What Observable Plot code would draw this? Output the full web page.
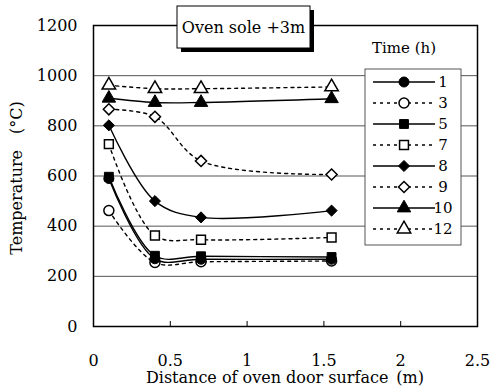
<!DOCTYPE html>
<html>
<head>
<meta charset="utf-8">
<script src="https://cdn.jsdelivr.net/npm/d3@7"></script>
<script src="https://cdn.jsdelivr.net/npm/@observablehq/plot@0.6"></script>
<style>
  html, body { margin: 0; padding: 0; background: #fff; }
  #chart svg { display: block; }
  #chart svg, #chart svg text { font-family: "DejaVu Serif", "Liberation Serif", serif !important; }
</style>
</head>
<body>
<div id="chart"></div>
<script>
// ---- data ----
const distance = [0.1, 0.4, 0.7, 1.55];           // m
const times = ["1", "3", "5", "7", "8", "9", "10", "12"];  // h
const temp_1h  = [590, 270, 268, 268];
const temp_3h  = [462, 255, 258, 261];
const temp_5h  = [597, 282, 280, 277];
const temp_7h  = [727, 363, 346, 355];
const temp_8h  = [802, 500, 435, 462];
const temp_9h  = [866, 836, 660, 606];
const temp_10h = [910, 893, 893, 908];
const temp_12h = [962, 948, 948, 955];
const xTicks = [0, 0.5, 1, 1.5, 2, 2.5];
const xTickLabels = ["0", "0.5", "1", "1.5", "2", "2.5"];
const yTicks = [0, 200, 400, 600, 800, 1000, 1200];
const gridY = [200, 400, 600, 800, 1000];
const titleText = "Oven sole +3m";
const legendTitle = "Time (h)";
const xLabel = "Distance of oven door surface\u2002(m)";
const yLabel = "Temperature\u2003(°C)";

const seriesValues = [temp_1h, temp_3h, temp_5h, temp_7h, temp_8h, temp_9h, temp_10h, temp_12h];
const filled = {"1": true, "3": false, "5": true, "7": false, "8": true, "9": false, "10": true, "12": false};
const dashed = {"1": false, "3": true, "5": false, "7": true, "8": false, "9": true, "10": false, "12": true};
const symbolOf = {
  "1": d3.symbolCircle, "3": d3.symbolCircle,
  "5": d3.symbolSquare, "7": d3.symbolSquare,
  "8": d3.symbolDiamond2, "9": d3.symbolDiamond2,
  "10": d3.symbolTriangle, "12": d3.symbolTriangle
};

const rows = [];
times.forEach((t, i) => {
  seriesValues[i].forEach((v, j) => rows.push({time: t, x: distance[j], y: v}));
});

const W = 497, H = 390;
const mL = 93, mR = 20, mT = 25, mB = 64;
const R = 5;
const dash = "3,4";
const font = "DejaVu Serif";

const chart = Plot.plot({
  width: W, height: H,
  marginLeft: mL, marginRight: mR, marginTop: mT, marginBottom: mB,
  style: {fontFamily: font, fontSize: "16px", color: "#000", background: "#fff"},
  x: {domain: [0, 2.5]},
  y: {domain: [0, 1200]},
  symbol: {domain: times, range: times.map(t => symbolOf[t])},
  marks: [
    Plot.ruleY(gridY, {stroke: "#555", strokeWidth: 1}),
    Plot.ruleX(xTicks.slice(1, -1), {y1: 0, y2: 20, stroke: "#000", strokeWidth: 1}),
    Plot.frame({stroke: "#000", strokeWidth: 1.5}),
    Plot.axisY(yTicks, {tickSize: 0, tickPadding: 16, label: null, fontSize: 16,
      tickFormat: d => String(d)}),
    Plot.axisX(xTicks, {tickSize: 0, tickPadding: 28, label: null, fontSize: 16,
      tickFormat: d => xTickLabels[xTicks.indexOf(d)]}),
    Plot.line(rows.filter(d => !dashed[d.time]), {x: "x", y: "y", z: "time", curve: "catmull-rom", stroke: "#000", strokeWidth: 1.4}),
    Plot.line(rows.filter(d => dashed[d.time]), {x: "x", y: "y", z: "time", curve: "catmull-rom", stroke: "#000", strokeWidth: 1.4, strokeDasharray: dash}),
    Plot.dot(rows.filter(d => !filled[d.time]), {x: "x", y: "y", symbol: "time", r: R, fill: "#fff", stroke: "#000", strokeWidth: 1.5}),
    Plot.dot(rows.filter(d => filled[d.time]), {x: "x", y: "y", symbol: "time", r: R, fill: "#000", stroke: "#000", strokeWidth: 1})
  ]
});

const svg = d3.select(chart);

// axis titles
svg.append("text")
  .attr("x", 285).attr("y", 383)
  .attr("text-anchor", "middle")
  .attr("font-size", 16)
  .text(xLabel);
svg.append("text")
  .attr("transform", "translate(22,178) rotate(-90)")
  .attr("text-anchor", "middle")
  .attr("font-size", 16)
  .text(yLabel);

// title box with shadow
const tb = svg.append("g");
tb.append("rect").attr("x", 181).attr("y", 10).attr("width", 133).attr("height", 42).attr("fill", "#000");
tb.append("rect").attr("x", 177).attr("y", 6).attr("width", 133).attr("height", 42)
  .attr("fill", "#fff").attr("stroke", "#000").attr("stroke-width", 1);
tb.append("text").attr("x", 243.5).attr("y", 33).attr("text-anchor", "middle")
  .attr("font-size", 16).text(titleText);

// legend
const lg = svg.append("g");
lg.append("text").attr("x", 404).attr("y", 53).attr("text-anchor", "middle")
  .attr("font-size", 15).text(legendTitle);
lg.append("rect").attr("x", 365).attr("y", 69).attr("width", 96).attr("height", 176)
  .attr("fill", "#fff").attr("stroke", "#555").attr("stroke-width", 1);
times.forEach((t, i) => {
  const yy = 82 + i * 21;
  lg.append("line").attr("x1", 373).attr("x2", 435).attr("y1", yy).attr("y2", yy)
    .attr("stroke", "#000").attr("stroke-width", 1.4)
    .attr("stroke-dasharray", dashed[t] ? dash : null);
  lg.append("path")
    .attr("d", d3.symbol().type(symbolOf[t]).size(R * R * Math.PI)())
    .attr("transform", `translate(404,${yy})`)
    .attr("fill", filled[t] ? "#000" : "#fff")
    .attr("stroke", "#000").attr("stroke-width", filled[t] ? 1 : 1.5);
  lg.append("text").attr("x", 443).attr("y", yy).attr("dy", "0.35em")
    .attr("font-size", 15).text(t);
});

document.getElementById("chart").appendChild(chart);
</script>
</body>
</html>
